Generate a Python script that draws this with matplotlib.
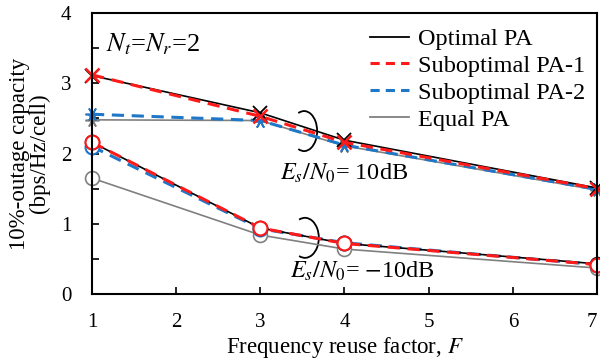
import matplotlib
matplotlib.use('Agg')
import matplotlib.pyplot as plt
from matplotlib.patches import Arc
from matplotlib.lines import Line2D

plt.rcParams['font.family'] = ['Liberation Serif', 'DejaVu Serif']
plt.rcParams['mathtext.fontset'] = 'stix'

F = [1, 3, 4, 7]

# Es/N0 = 10 dB
opt_10 = [3.11, 2.58, 2.19, 1.51]
sub1_10 = [3.12, 2.53, 2.16, 1.50]
sub2_10 = [2.56, 2.47, 2.12, 1.49]
eq_10 = [2.48, 2.47, 2.11, 1.48]

# Es/N0 = -10 dB
opt_m10 = [2.16, 0.94, 0.72, 0.43]
sub1_m10 = [2.16, 0.94, 0.72, 0.42]
sub2_m10 = [2.10, 0.93, 0.73, 0.42]
eq_m10 = [1.65, 0.84, 0.64, 0.37]

labels = ['Optimal PA', 'Suboptimal PA-1', 'Suboptimal PA-2', 'Equal PA']

c_opt = 'black'
c_sub1 = '#ff1a1a'
c_sub2 = '#1f77c8'
c_eq = 'gray'
dash = (0, (4, 2.5))
star = (6, 2, 90)

fig = plt.figure(figsize=(6, 3.63), dpi=100)
ax = fig.add_axes([0.1533, 0.19, 0.8417, 0.774])

# 10 dB curves
ax.plot(F, eq_10, color=c_eq, lw=1.2, marker=star, ms=10, mew=1.2, clip_on=False)
ax.plot(F, sub2_10, color=c_sub2, lw=2.2, ls=dash, marker=star, ms=10, mew=1.2, clip_on=False)
ax.plot(F, opt_10, color=c_opt, lw=1.2, marker='x', ms=10, mew=1.3, clip_on=False)
ax.plot(F, sub1_10, color=c_sub1, lw=2.2, ls=dash, marker='x', ms=10, mew=1.8, clip_on=False)

# -10 dB curves
ax.plot(F, eq_m10, color=c_eq, lw=1.2, marker='o', ms=10, mfc='white', mew=1.2, clip_on=False)
ax.plot(F, sub2_m10, color=c_sub2, lw=2.2, ls=dash, marker='o', ms=10, mfc='white', mew=1.5, clip_on=False)
ax.plot(F, opt_m10, color=c_opt, lw=1.2, marker='o', ms=10, mfc='white', mew=1.2, clip_on=False)
ax.plot(F, sub1_m10, color=c_sub1, lw=2.2, ls=dash, marker='o', ms=10, mfc='white', mew=1.5, clip_on=False)

ax.add_patch(Arc((3.52, 2.32), 0.31, 0.57, theta1=-105, theta2=105, color='black', lw=1.3))
ax.add_patch(Arc((3.53, 0.80), 0.33, 0.57, theta1=-105, theta2=105, color='black', lw=1.3))

ax.text(3.23, 1.72, r'$E_s/N_0$= 10dB', fontsize=17.5, va='center')
ax.text(3.35, 0.33, r'$E_s/N_0$= $-$10dB', fontsize=17.5, va='center')
ax.text(1.17, 3.56, r'$N_t$=$N_r$=2', fontsize=19, va='center')

ax.set_xlim(1, 7)
ax.set_ylim(0, 4)
ax.set_xticks(range(1, 8))
ax.set_yticks(range(0, 5))
ax.set_yticks([0.5, 1.5, 2.5, 3.5], minor=True)
ax.tick_params(axis='both', which='both', direction='in', length=5, width=1.2, labelsize=15)
ax.tick_params(axis='x', pad=14)
ax.tick_params(axis='y', pad=15)
for s in ax.spines.values():
    s.set_linewidth(1.5)
# keep the last x label inside the figure
ax.get_xticklabels()[-1].set_ha('right')

ax.set_xlabel('Frequency reuse factor, $F$', fontsize=16.5, labelpad=2)
ax.set_ylabel('10%-outage capacity\n(bps/Hz/cell)', fontsize=16.5, labelpad=8, linespacing=0.9)

handles = [
    Line2D([], [], color=c_opt, lw=1.3),
    Line2D([], [], color=c_sub1, lw=2.2, ls=(0, (3, 2))),
    Line2D([], [], color=c_sub2, lw=2.2, ls=(0, (3, 2))),
    Line2D([], [], color=c_eq, lw=1.3),
]
ax.legend(handles, labels, loc='upper right', frameon=False, fontsize=17.5,
          handlelength=1.6, handletextpad=0.35, labelspacing=0.2,
          borderaxespad=0.1, bbox_to_anchor=(1.0, 0.99))

fig.savefig('out.png', dpi=100)
